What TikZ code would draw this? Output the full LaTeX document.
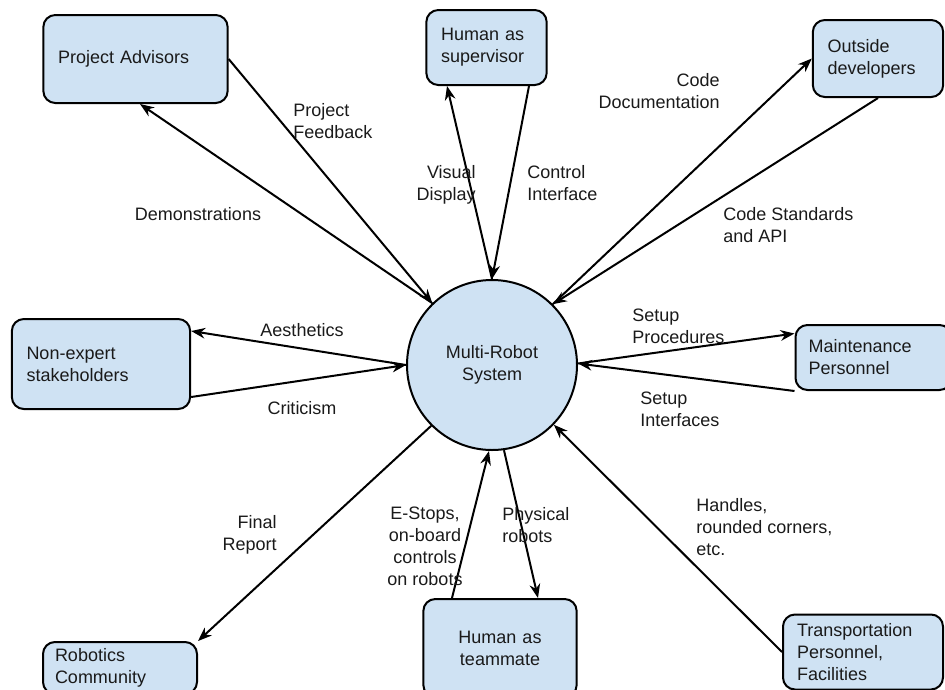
\documentclass[tikz,border=0pt]{standalone}
\usepackage{fontspec}
\setmainfont{Liberation Sans}
\usetikzlibrary{arrows.meta,calc}
\definecolor{boxblue}{HTML}{CFE2F3}
\definecolor{ink}{HTML}{1A1A1A}
\begin{document}
\begin{tikzpicture}[
  x=0.75pt, y=-0.75pt,
  every node/.style={font=\fontsize{13.5pt}{16.5pt}\selectfont, text=ink},
  box/.style={draw=black, fill=boxblue, line width=1.5pt, rounded corners=9pt,
              align=left, inner xsep=11pt, inner ysep=0pt},
  hub/.style={draw=black, fill=boxblue, line width=1.5pt, circle,
              minimum size=127.5pt, inner sep=0pt, align=center},
  conn/.style={line width=1.5pt, -{Stealth[length=10.5pt, width=8pt]}},
  lbl/.style={inner sep=0pt}
]
\useasboundingbox (0,0) rectangle (945,689);
\clip (0,0) rectangle (945,689);

% central system
\node[hub] (mrs) at (492,365) {Multi-Robot\\System};

% stakeholders
\node[box, text width=116.25pt, minimum height=66pt] (adv) at (135.5,59) {Project Advisors};
\node[box, text width=68.25pt, minimum height=56.25pt] (sup) at (486.5,47.5) {Human as\\supervisor};
\node[box, text width=75.75pt, minimum height=57.75pt] (dev) at (878,58.5) {Outside\\developers};
\node[box, text width=111.75pt, minimum height=67.5pt] (nonexp) at (101,364) {Non-expert\\stakeholders};
\node[box, text width=97.5pt, minimum height=48.75pt, inner xsep=9.75pt] (maint) at (873.5,357.5) {Maintenance\\Personnel};
\node[box, text width=97.5pt, minimum height=39pt, inner xsep=9pt] (robo) at (120,668) {Robotics\\Community};
\node[box, text width=93pt, minimum height=73.5pt, align=center] (team) at (500,648) {Human as\\teammate};
\node[box, text width=99pt, minimum height=56.25pt, inner xsep=10.5pt] (trans) at (863,652) {Transportation\\Personnel,\\Facilities};

% flows between the system and its stakeholders
\draw[conn] (mrs.134) -- ($(adv.south)+(4.5,0)$);
\draw[conn] (adv.east) -- (mrs.134);
\draw[conn] (mrs.90) -- ($(sup.south)+(-39.5,0)$);
\draw[conn] ($(sup.south)+(42.5,0)$) -- (mrs.90);
\draw[conn] (mrs.45) -- (dev.west);
\draw[conn] (dev.south) -- (mrs.45);
\draw[conn] (mrs.1) -- ($(maint.west)+(0,-24)$);
\draw[conn] (maint.south west) -- (mrs.1);
\draw[conn] (mrs.180) -- ($(nonexp.east)+(0,-33)$);
\draw[conn] ($(nonexp.east)+(0,33)$) -- (mrs.180);
\draw[conn] (mrs.225) -- (robo.north east);
\draw[conn] ($(team.north)+(-48,0)$) -- (mrs.268);
\draw[conn] (mrs.278) -- ($(team.north)+(38,0)$);
\draw[conn] (trans.west) -- (mrs.316);

% flow labels (placed by the baseline of their last line)
\node[lbl, anchor=base west, align=left] (lfeed) at (293,138) {Project\\Feedback};
\node[lbl, anchor=base] (ldemo) at (198,220) {Demonstrations};
\node[lbl, anchor=base east, align=right] (lvis) at (476,200) {Visual\\Display};
\node[lbl, anchor=base west, align=left] (lctl) at (527,200) {Control\\Interface};
\node[lbl, anchor=base east, align=right] (ldoc) at (720,108) {Code\\Documentation};
\node[lbl, anchor=base west, align=left] (lapi) at (723,242) {Code Standards\\and API};
\node[lbl, anchor=base] (laes) at (302,336) {Aesthetics};
\node[lbl, anchor=base] (lcrit) at (302,414) {Criticism};
\node[lbl, anchor=base west, align=left] (lproc) at (632,343) {Setup\\Procedures};
\node[lbl, anchor=base west, align=left] (lintf) at (640,426) {Setup\\Interfaces};
\node[lbl, anchor=base east, align=right] (lrep) at (277,550) {Final\\Report};
\node[lbl, anchor=base, align=center] (lstop) at (425,585) {E-Stops,\\on-board\\controls\\on robots};
\node[lbl, anchor=base west, align=left] (lphys) at (502,542) {Physical\\robots};
\node[lbl, anchor=base west, align=left] (lhand) at (696,555) {Handles,\\rounded corners,\\etc.};
\end{tikzpicture}
\end{document}
